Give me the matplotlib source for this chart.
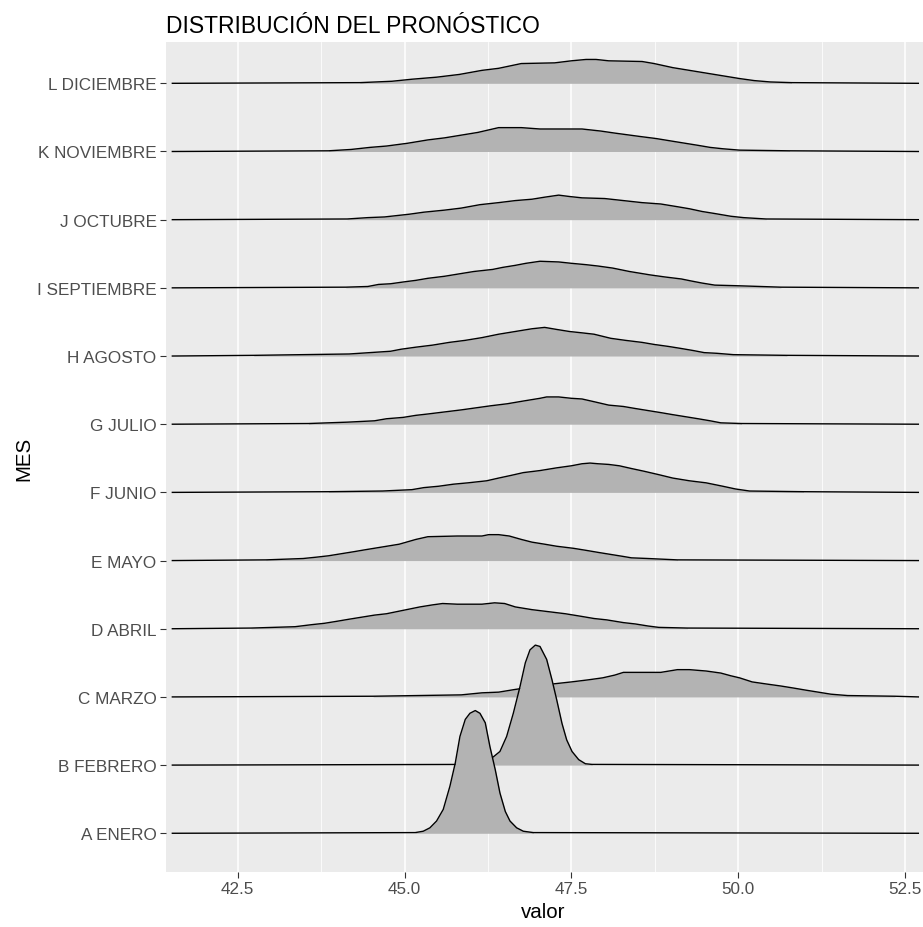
import matplotlib
matplotlib.use("Agg")
import matplotlib.pyplot as plt

plt.rcParams['font.family'] = ['Liberation Sans', 'DejaVu Sans']

# etiquetas del eje y (de abajo hacia arriba)
meses = ["A ENERO", "B FEBRERO", "C MARZO", "D ABRIL", "E MAYO", "F JUNIO",
         "G JULIO", "H AGOSTO", "I SEPTIEMBRE", "J OCTUBRE", "K NOVIEMBRE", "L DICIEMBRE"]

# rango comun de las densidades (linea base)
rango_min = 41.52
rango_max = 52.70

# valor / altura de cada cresta (altura en unidades de fila)
enero_x = [45.16, 45.28, 45.38, 45.48, 45.58, 45.68, 45.76, 45.83, 45.91, 45.98, 46.06,
           46.13, 46.21, 46.28, 46.36, 46.43, 46.51, 46.58, 46.68, 46.78, 46.93]
enero_h = [0.01, 0.03, 0.08, 0.18, 0.35, 0.69, 1.03, 1.42, 1.67, 1.76, 1.80,
           1.76, 1.62, 1.27, 0.93, 0.59, 0.32, 0.18, 0.08, 0.03, 0.01]

febrero_x = [46.00, 46.15, 46.33, 46.43, 46.53, 46.63, 46.73, 46.81, 46.88, 46.96,
             47.03, 47.13, 47.21, 47.28, 47.36, 47.43, 47.51, 47.61, 47.71, 47.81]
febrero_h = [0.01, 0.04, 0.12, 0.20, 0.42, 0.76, 1.15, 1.50, 1.69, 1.76,
             1.74, 1.55, 1.25, 0.96, 0.61, 0.37, 0.20, 0.08, 0.02, 0.01]

marzo_x = [44.53, 45.85, 46.16, 46.41, 46.66, 46.95, 47.22, 47.50, 47.75, 47.97, 48.15,
           48.28, 48.84, 49.09, 49.27, 49.52, 49.74, 49.89, 50.02, 50.21, 50.42, 50.64,
           50.83, 51.01, 51.20, 51.39, 51.64, 52.35]
marzo_h = [0.01, 0.03, 0.06, 0.07, 0.11, 0.15, 0.19, 0.22, 0.25, 0.28, 0.32,
           0.36, 0.36, 0.40, 0.40, 0.38, 0.35, 0.31, 0.28, 0.22, 0.19, 0.16,
           0.13, 0.10, 0.07, 0.04, 0.02, 0.01]

abril_x = [42.70, 43.36, 43.61, 43.80, 43.99, 44.17, 44.36, 44.55, 44.73, 44.98, 45.23,
           45.42, 45.57, 45.79, 46.16, 46.35, 46.50, 46.66, 46.91, 47.16, 47.41, 47.66,
           47.84, 48.03, 48.28, 48.46, 48.65, 48.81, 49.24]
abril_h = [0.01, 0.03, 0.06, 0.08, 0.11, 0.14, 0.17, 0.20, 0.22, 0.27, 0.32,
           0.35, 0.37, 0.36, 0.36, 0.38, 0.37, 0.32, 0.28, 0.25, 0.22, 0.18,
           0.15, 0.13, 0.09, 0.07, 0.04, 0.02, 0.01]

mayo_x = [42.92, 43.48, 43.68, 43.86, 44.05, 44.24, 44.42, 44.67, 44.92, 45.17, 45.35,
          45.79, 46.16, 46.26, 46.41, 46.57, 46.75, 46.91, 47.10, 47.28, 47.53, 47.72,
          47.90, 48.09, 48.28, 48.40, 48.65, 49.09]
mayo_h = [0.01, 0.03, 0.05, 0.07, 0.10, 0.13, 0.16, 0.20, 0.24, 0.31, 0.35,
          0.36, 0.36, 0.38, 0.38, 0.36, 0.31, 0.27, 0.24, 0.21, 0.18, 0.15,
          0.12, 0.09, 0.06, 0.04, 0.03, 0.01]

junio_x = [43.86, 44.67, 45.11, 45.29, 45.51, 45.73, 45.95, 46.23, 46.41, 46.60, 46.78,
           47.03, 47.28, 47.50, 47.66, 47.78, 47.90, 48.06, 48.22, 48.40, 48.59, 48.81,
           49.02, 49.27, 49.52, 49.77, 49.96, 50.17, 50.98]
junio_h = [0.01, 0.02, 0.04, 0.07, 0.09, 0.12, 0.14, 0.17, 0.21, 0.25, 0.29,
           0.32, 0.36, 0.39, 0.42, 0.43, 0.42, 0.41, 0.39, 0.35, 0.31, 0.26,
           0.21, 0.17, 0.14, 0.09, 0.05, 0.02, 0.01]

julio_x = [43.56, 44.14, 44.55, 44.73, 44.98, 45.17, 45.35, 45.60, 45.85, 46.07, 46.29,
           46.54, 46.78, 47.03, 47.13, 47.31, 47.50, 47.66, 47.84, 48.06, 48.28, 48.46,
           48.65, 48.84, 49.02, 49.21, 49.40, 49.58, 49.74, 50.05]
julio_h = [0.01, 0.03, 0.05, 0.08, 0.10, 0.13, 0.15, 0.18, 0.21, 0.24, 0.27,
           0.30, 0.34, 0.38, 0.40, 0.40, 0.38, 0.37, 0.33, 0.28, 0.26, 0.23,
           0.20, 0.17, 0.14, 0.11, 0.08, 0.05, 0.02, 0.01]

agosto_x = [42.74, 44.17, 44.48, 44.79, 44.95, 45.17, 45.42, 45.67, 45.91, 46.16, 46.41,
            46.66, 46.91, 47.10, 47.28, 47.47, 47.66, 47.84, 48.09, 48.31, 48.56, 48.74,
            48.96, 49.15, 49.33, 49.49, 49.68, 49.93, 50.73]
agosto_h = [0.01, 0.03, 0.05, 0.07, 0.10, 0.13, 0.16, 0.20, 0.23, 0.27, 0.32,
            0.36, 0.40, 0.42, 0.39, 0.36, 0.34, 0.32, 0.26, 0.23, 0.20, 0.17,
            0.14, 0.11, 0.08, 0.05, 0.04, 0.02, 0.01]

septiembre_x = [44.12, 44.45, 44.61, 44.79, 45.01, 45.17, 45.35, 45.60, 45.85, 46.04,
                46.32, 46.47, 46.66, 46.82, 47.03, 47.31, 47.50, 47.72, 47.90, 48.12,
                48.37, 48.68, 48.90, 49.15, 49.30, 49.46, 49.65, 50.02, 50.64]
septiembre_h = [0.01, 0.02, 0.05, 0.06, 0.09, 0.11, 0.14, 0.17, 0.21, 0.24,
                0.27, 0.30, 0.33, 0.36, 0.39, 0.38, 0.36, 0.34, 0.32, 0.29,
                0.24, 0.19, 0.16, 0.13, 0.10, 0.07, 0.04, 0.03, 0.01]

octubre_x = [44.14, 44.45, 44.70, 45.07, 45.29, 45.60, 45.85, 46.13, 46.41, 46.66, 46.91,
             47.10, 47.31, 47.47, 47.66, 48.00, 48.28, 48.56, 48.84, 49.09, 49.27, 49.46,
             49.65, 49.89, 50.08, 50.42]
octubre_h = [0.01, 0.03, 0.04, 0.08, 0.11, 0.14, 0.17, 0.22, 0.25, 0.28, 0.30,
             0.33, 0.36, 0.34, 0.32, 0.31, 0.28, 0.25, 0.23, 0.19, 0.16, 0.12,
             0.09, 0.05, 0.03, 0.01]

noviembre_x = [43.86, 44.20, 44.48, 44.73, 45.04, 45.35, 45.60, 45.85, 46.10, 46.41, 46.75,
               47.03, 47.66, 47.94, 48.15, 48.53, 48.77, 49.02, 49.21, 49.40, 49.58, 49.77,
               50.02, 50.77]
noviembre_h = [0.01, 0.03, 0.06, 0.08, 0.12, 0.17, 0.20, 0.24, 0.28, 0.35, 0.35,
               0.33, 0.33, 0.30, 0.27, 0.22, 0.19, 0.15, 0.12, 0.09, 0.06, 0.04,
               0.02, 0.01]

diciembre_x = [44.33, 44.81, 45.11, 45.48, 45.82, 46.16, 46.41, 46.75, 47.25, 47.50, 47.72,
               47.87, 48.06, 48.56, 48.74, 49.02, 49.27, 49.52, 49.77, 50.02, 50.24, 50.48,
               50.80]
diciembre_h = [0.01, 0.03, 0.06, 0.09, 0.13, 0.19, 0.22, 0.29, 0.30, 0.33, 0.35,
               0.35, 0.33, 0.32, 0.29, 0.23, 0.19, 0.15, 0.11, 0.07, 0.04, 0.02,
               0.01]

crestas = [(enero_x, enero_h), (febrero_x, febrero_h), (marzo_x, marzo_h),
           (abril_x, abril_h), (mayo_x, mayo_h), (junio_x, junio_h),
           (julio_x, julio_h), (agosto_x, agosto_h), (septiembre_x, septiembre_h),
           (octubre_x, octubre_h), (noviembre_x, noviembre_h), (diciembre_x, diciembre_h)]

W, H = 923, 928
fig = plt.figure(figsize=(W / 100, H / 100), dpi=100)
ax = fig.add_axes([166 / W, 1 - 873 / H, (W - 166) / W, (873 - 43) / H])
ax.set_facecolor('#EBEBEB')
for s in ax.spines.values():
    s.set_visible(False)

# rejilla al estilo ggplot
for v in [43.75, 46.25, 48.75, 51.25]:
    ax.axvline(v, color='white', lw=0.55, zorder=0)
for v in [42.5, 45.0, 47.5, 50.0, 52.5]:
    ax.axvline(v, color='white', lw=1.1, zorder=0)

# de arriba hacia abajo, las de abajo tapan a las de arriba
for i in range(len(meses) - 1, -1, -1):
    xs, hs = crestas[i]
    z = 10 + (len(meses) - i) * 2
    top = [i + h for h in hs]
    ax.fill_between(xs, [i] * len(xs), top, color='#B3B3B3', lw=0, zorder=z)
    ax.plot([rango_min] + xs + [rango_max], [i] + top + [i],
            color='black', lw=1.0, zorder=z + 1, solid_joinstyle='round')

ax.set_xlim(41.425, 52.77)
ax.set_ylim(-0.568, 11.606)
ax.set_xticks([42.5, 45.0, 47.5, 50.0, 52.5])
ax.set_xticklabels(["42.5", "45.0", "47.5", "50.0", "52.5"])
ax.set_yticks(range(len(meses)))
ax.set_yticklabels(meses)
ax.tick_params(axis='both', length=4.3, width=0.8, color='#333333',
               labelcolor='#4D4D4D', labelsize=12.3)
ax.tick_params(axis='x', pad=2.5)
ax.tick_params(axis='y', pad=2.5)

fig.text(166 / W, 1 - 33 / H, "DISTRIBUCIÓN DEL PRONÓSTICO", fontsize=16.5,
         ha='left', va='baseline', color='black')
fig.text(543 / W, 1 - 913 / H, "valor", fontsize=14.8, ha='center', va='center')
fig.text(23.5 / W, 1 - 459 / H, "MES", fontsize=14.8, rotation=90, ha='center', va='center')

fig.savefig("out.png", dpi=100)
